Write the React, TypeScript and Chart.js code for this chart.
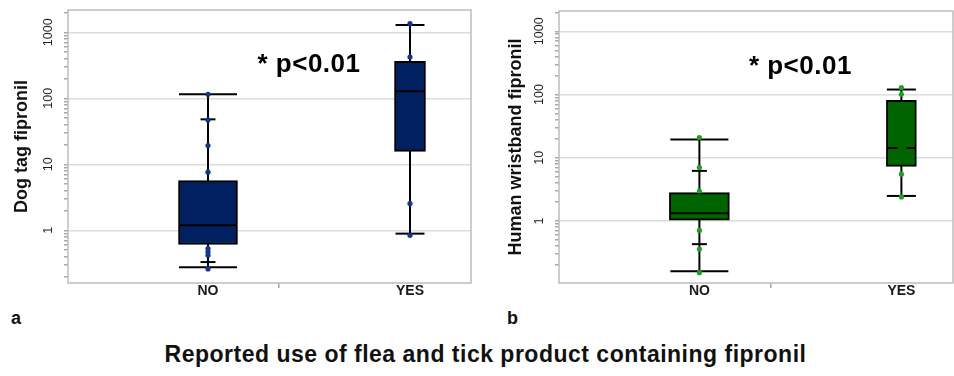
import React, { useEffect, useRef } from 'react';
import { Chart, registerables } from 'chart.js';

Chart.register(...registerables);

const FONT = "'Liberation Sans', Arial, Helvetica, sans-serif";

// ---------- data ----------
const categories = ['NO', 'YES'];
const pValueText = '* p<0.01';
const mainTitle = 'Reported use of flea and tick product containing fipronil';

// Panel a — Dog tag fipronil. Box stats: [low whisker, Q1, median, Q3, high whisker]
const dogTagTitle = 'Dog tag fipronil';
const dogNoBox = [0.275, 0.61, 1.19, 5.66, 115];
const dogYesBox = [0.89, 15.7, 128, 364, 1290];
const dogNoInner = [48, 0.33];
const dogYesInner: number[] = [];
const dogNoPoints = [115, 47, 19.2, 7.6, 0.53, 0.47, 0.42, 0.26];
const dogYesPoints = [1350, 422, 2.54, 0.84];

// Panel b — Human wristband fipronil
const wristTitle = 'Human wristband fipronil';
const wbNoBox = [0.16, 1.03, 1.32, 2.81, 19.4];
const wbYesBox = [2.49, 7.3, 14.3, 81, 120];
const wbNoInner = [6.2, 0.43];
const wbYesInner: number[] = [];
const wbNoPoints = [20.9, 7.0, 2.98, 0.71, 0.36, 0.152];
const wbYesPoints = [129, 101, 5.5, 2.4];

// ---------- helpers ----------
function isDecade(v: any) {
  if (typeof v !== 'number' || v <= 0) return false;
  const l = Math.log10(v);
  return Math.abs(l - Math.round(l)) < 1e-6;
}

function logTicks(min: number, max: number) {
  const out: any[] = [];
  for (let e = Math.floor(Math.log10(min)); e <= Math.ceil(Math.log10(max)); e++) {
    for (let k = 1; k <= 9; k++) {
      const v = +(k * Math.pow(10, e)).toPrecision(6);
      if (v >= min && v <= max) out.push({ value: v, major: k === 1 });
    }
  }
  return out;
}

function dashCanvas(width: number) {
  const c = document.createElement('canvas');
  c.width = width;
  c.height = 2;
  const g = c.getContext('2d')!;
  g.fillStyle = '#000';
  g.fillRect(0, 0, 10, 2);
  g.fillRect(19, 0, width - 19, 2);
  return c;
}

type PanelCfg = {
  left: number;
  width: number;
  yTitle: string;
  boxes: number[][];
  inner: number[][];
  points: number[][];
  boxWidths: number[];
  capWidths: number[];
  dashedMedian: boolean[];
  fill: string;
  dot: string;
  yMin: number;
  yMax: number;
  xMin: number;
  xMax: number;
  sep: number;
  pY: number;
  padding: any;
  yWidth: number;
  tickPad: number;
  titlePad: number;
};

const panelA: PanelCfg = {
  left: 0,
  width: 477,
  yTitle: dogTagTitle,
  boxes: [dogNoBox, dogYesBox],
  inner: [dogNoInner, dogYesInner],
  points: [dogNoPoints, dogYesPoints],
  boxWidths: [59, 31],
  capWidths: [58, 29],
  dashedMedian: [false, false],
  fill: '#002060',
  dot: '#15368a',
  yMin: 0.159,
  yMax: 2178,
  xMin: -0.693,
  xMax: 1.302,
  sep: 0.703,
  pY: 327,
  padding: { top: 10, right: 6, bottom: 0, left: 0 },
  yWidth: 68,
  tickPad: 1.2,
  titlePad: 11,
};

const panelB: PanelCfg = {
  left: 477,
  width: 477,
  yTitle: wristTitle,
  boxes: [wbNoBox, wbYesBox],
  inner: [wbNoInner, wbYesInner],
  points: [wbNoPoints, wbYesPoints],
  boxWidths: [60, 30],
  capWidths: [58, 29],
  dashedMedian: [false, true],
  fill: '#006400',
  dot: '#23a023',
  yMin: 0.1045,
  yMax: 2096,
  xMin: -0.695,
  xMax: 1.2555,
  sep: 0.705,
  pY: 275,
  padding: { top: 11, right: 1, bottom: 0, left: 0 },
  yWidth: 82,
  tickPad: 1.7,
  titlePad: 28,
};

function buildChart(canvas: HTMLCanvasElement, cfg: PanelCfg) {
  const datasets: any[] = [];
  const xs = [0, 1];
  cfg.boxes.forEach((b, i) => {
    const [lo, q1, med, q3, hi] = b;
    const w = cfg.boxWidths[i];
    const x = xs[i];
    datasets.push({
      type: 'line',
      data: [{ x, y: lo }, { x, y: hi }],
      borderColor: '#000',
      borderWidth: 2,
      pointRadius: 0,
      order: 5,
    });
    datasets.push({
      type: 'bar',
      data: [{ x, y: [q1, q3] }],
      backgroundColor: cfg.fill,
      borderColor: '#000',
      borderWidth: 2,
      borderSkipped: false,
      barThickness: w,
      grouped: false,
      order: 4,
    });
    datasets.push({
      type: 'scatter',
      data: [{ x, y: lo }, { x, y: hi }],
      pointStyle: 'line',
      pointRadius: cfg.capWidths[i] / 2,
      pointBorderColor: '#000',
      pointBorderWidth: 2,
      borderColor: '#000',
      borderWidth: 2,
      order: 2,
    });
    datasets.push({
      type: 'scatter',
      data: [{ x, y: med }],
      pointStyle: cfg.dashedMedian[i] ? dashCanvas(w - 2) : 'line',
      pointRadius: w / 2 - 1,
      pointBorderColor: '#000',
      pointBorderWidth: 2,
      borderColor: '#000',
      borderWidth: 2,
      order: 2,
    });
    if (cfg.inner[i].length) {
      datasets.push({
        type: 'scatter',
        data: cfg.inner[i].map((y) => ({ x, y })),
        pointStyle: 'line',
        pointRadius: 7.5,
        pointBorderColor: '#000',
        pointBorderWidth: 2,
        borderColor: '#000',
        borderWidth: 2,
        order: 2,
      });
    }
    datasets.push({
      type: 'scatter',
      data: cfg.points[i].map((y) => ({ x, y })),
      pointRadius: 2.6,
      pointBackgroundColor: cfg.dot,
      backgroundColor: cfg.dot,
      pointBorderWidth: 0,
      borderWidth: 0,
      order: 0,
    });
  });

  const framePlugin = {
    id: 'frame',
    beforeDatasetsDraw(chart: any) {
      const { ctx, chartArea } = chart;
      const { left, top, right, bottom } = chartArea;
      ctx.save();
      ctx.strokeStyle = '#bdbdbd';
      ctx.lineWidth = 1.5;
      ctx.strokeRect(left, top, right - left, bottom - top);
      ctx.restore();
    },
  };

  const pPlugin = {
    id: 'pvalue',
    afterDatasetsDraw(chart: any) {
      const { ctx, scales } = chart;
      ctx.save();
      ctx.fillStyle = '#000';
      ctx.font = `bold 26px ${FONT}`;
      try {
        (ctx as any).letterSpacing = '0.5px';
      } catch (e) {}
      ctx.textAlign = 'center';
      ctx.textBaseline = 'middle';
      ctx.fillText(pValueText, scales.x.getPixelForValue(0.5), scales.y.getPixelForValue(cfg.pY));
      ctx.restore();
    },
  };

  return new Chart(canvas, {
    type: 'bar',
    data: { datasets },
    plugins: [framePlugin, pPlugin],
    options: {
      responsive: false,
      animation: false,
      events: [],
      layout: { padding: cfg.padding, autoPadding: false },
      plugins: {
        legend: { display: false },
        tooltip: { enabled: false },
        title: { display: false },
      },
      scales: {
        x: {
          type: 'linear',
          min: cfg.xMin,
          max: cfg.xMax,
          offset: false,
          afterBuildTicks: (s: any) => {
            s.ticks = [{ value: 0 }, { value: cfg.sep }, { value: 1 }];
          },
          afterFit: (s: any) => {
            s.height = 17;
            s.paddingTop = 0;
            s.paddingBottom = 0;
            s.paddingLeft = 0;
            s.paddingRight = 0;
          },
          border: { display: false },
          grid: {
            drawOnChartArea: false,
            drawTicks: true,
            tickLength: 5,
            lineWidth: 1.5,
            color: 'rgba(0,0,0,0)',
            tickColor: (c: any) =>
              c.tick && Math.abs(c.tick.value - cfg.sep) < 1e-6 ? '#a8a8a8' : 'rgba(0,0,0,0)',
          },
          ticks: {
            autoSkip: false,
            minRotation: 0,
            maxRotation: 0,
            padding: -5,
            color: '#1a1a1a',
            font: { family: FONT, size: 14, weight: 'bold' },
            callback: (v: any) => (v === 0 ? categories[0] : v === 1 ? categories[1] : ''),
          },
        },
        y: {
          type: 'logarithmic',
          min: cfg.yMin,
          max: cfg.yMax,
          afterBuildTicks: (s: any) => {
            s.ticks = logTicks(cfg.yMin, cfg.yMax);
          },
          afterFit: (s: any) => {
            s.width = cfg.yWidth;
            s.paddingTop = 0;
            s.paddingBottom = 0;
            s.paddingLeft = 0;
            s.paddingRight = 0;
          },
          border: { display: false },
          grid: {
            color: (c: any) => (c.tick && isDecade(c.tick.value) ? '#dcdcdc' : 'rgba(0,0,0,0)'),
            tickColor: '#a8a8a8',
            tickLength: 4,
            lineWidth: 1.5,
          },
          ticks: {
            autoSkip: false,
            minRotation: 90,
            maxRotation: 90,
            crossAlign: 'center',
            padding: cfg.tickPad,
            color: '#222',
            font: { family: FONT, size: 12.5 },
            callback: (v: any) => (isDecade(v) ? String(v >= 1 ? Math.round(v) : v) : ''),
          },
          title: {
            display: true,
            text: cfg.yTitle,
            color: '#111',
            font: { family: FONT, size: 18, weight: 'bold' },
            padding: { top: cfg.titlePad, bottom: 0 },
          },
        },
      },
    } as any,
  } as any);
}

function Panel({ cfg }: { cfg: PanelCfg }) {
  const ref = useRef<HTMLCanvasElement | null>(null);
  useEffect(() => {
    const chart = buildChart(ref.current!, cfg);
    return () => chart.destroy();
  }, [cfg]);
  return (
    <canvas
      ref={ref}
      width={cfg.width}
      height={300}
      style={{ position: 'absolute', left: cfg.left, top: 0 }}
    />
  );
}

export default function App() {
  return (
    <div
      style={{
        position: 'absolute',
        left: 0,
        top: 0,
        width: 954,
        height: 376,
        background: '#fff',
        overflow: 'hidden',
        fontFamily: FONT,
      }}
    >
      <Panel cfg={panelA} />
      <Panel cfg={panelB} />
      <div
        style={{
          position: 'absolute',
          left: 11,
          top: 309,
          fontSize: 18,
          lineHeight: '18px',
          fontWeight: 'bold',
          color: '#111',
        }}
      >
        a
      </div>
      <div
        style={{
          position: 'absolute',
          left: 507,
          top: 309,
          fontSize: 18,
          lineHeight: '18px',
          fontWeight: 'bold',
          color: '#111',
        }}
      >
        b
      </div>
      <div
        style={{
          position: 'absolute',
          left: 0,
          width: 971,
          top: 343,
          textAlign: 'center',
          fontSize: 23,
          lineHeight: '23px',
          letterSpacing: '0.5px',
          fontWeight: 'bold',
          color: '#111',
          whiteSpace: 'nowrap',
        }}
      >
        {mainTitle}
      </div>
    </div>
  );
}
